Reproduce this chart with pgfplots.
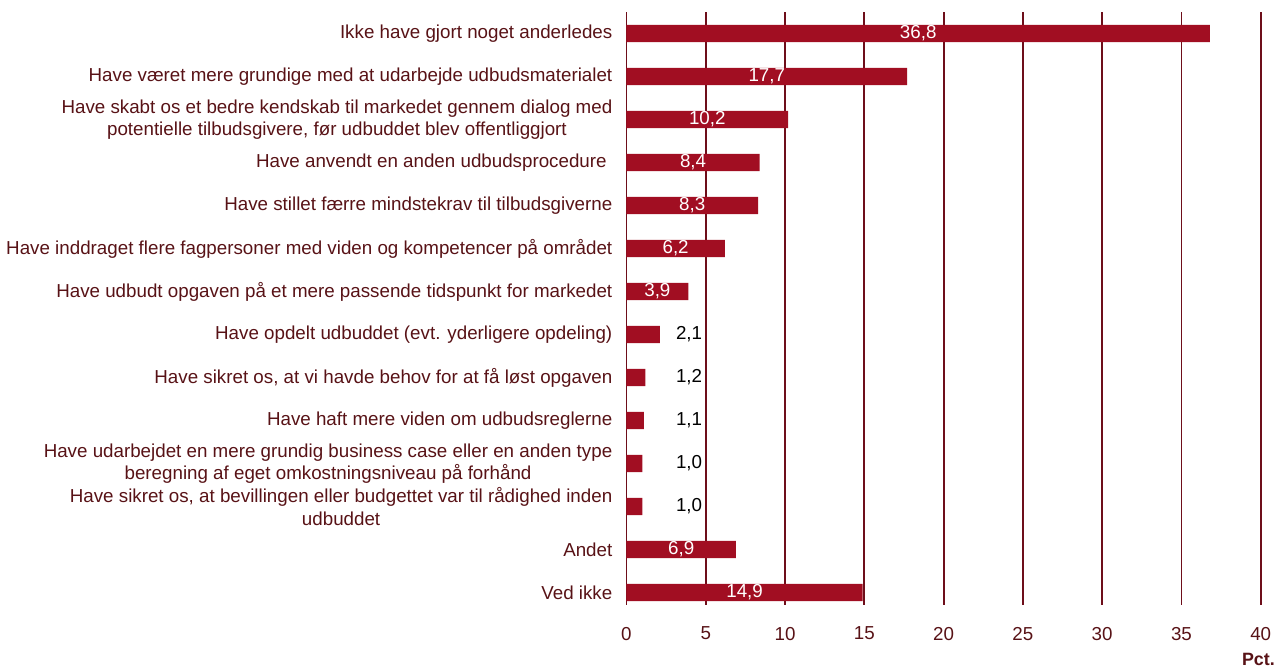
\documentclass[border=0pt]{standalone}
\usepackage{pgfplots}
\usepackage{pgfplotstable}
\usepackage{fontspec}
\setmainfont{Liberation Sans}
\pgfplotsset{compat=1.18}

\definecolor{barred}{RGB}{161,14,34}
\definecolor{gridred}{RGB}{110,14,26}
\definecolor{textred}{RGB}{88,18,22}

% bars, top to bottom
\pgfplotstableread{
pos val
0 36.8
1 17.7
2 10.2
3 8.4
4 8.3
5 6.2
6 3.9
7 2.1
8 1.2
9 1.1
10 1.0
11 1.0
12 6.9
13 14.9
}\bardata

% values printed inside the bar
\pgfplotstableread{
pos val
0 36.8
1 17.7
2 10.2
3 8.4
4 8.3
5 6.2
6 3.9
12 6.9
13 14.9
}\insidedata

% values printed beside short bars
\pgfplotstableread{
pos val
7 2.1
8 1.2
9 1.1
10 1.0
11 1.0
}\outsidedata

\begin{document}
\begin{tikzpicture}
\begin{axis}[
    scale only axis,
    width=338pt,
    height=316pt,
    xmin=0, xmax=40,
    ymin=-0.49, ymax=13.3,
    y dir=reverse,
    axis line style={draw=none},
    major tick length=0pt,
    xtick={0,5,...,40},
    xmajorgrids=true,
    grid style={gridred, line width=1pt},
    ytick={0,...,13},
    yticklabels={
      {Ikke have gjort noget anderledes},
      {Have været mere grundige med at udarbejde udbudsmaterialet},
      {Have skabt os et bedre kendskab til markedet gennem dialog med\\potentielle tilbudsgivere, før udbuddet blev offentliggjort},
      {Have anvendt en anden udbudsprocedure\hspace*{3pt}},
      {Have stillet færre mindstekrav til tilbudsgiverne},
      {Have inddraget flere fagpersoner med viden og kompetencer på området},
      {Have udbudt opgaven på et mere passende tidspunkt for markedet},
      {Have opdelt udbuddet (evt. yderligere opdeling)},
      {Have sikret os, at vi havde behov for at få løst opgaven},
      {Have haft mere viden om udbudsreglerne},
      {Have udarbejdet en mere grundig business case eller en anden type\\beregning af eget omkostningsniveau på forhånd},
      {Have sikret os, at bevillingen eller budgettet var til rådighed inden\\udbuddet},
      {Andet},
      {Ved ikke}
    },
    yticklabel style={font=\fontsize{10}{12}\selectfont, text=textred, align=center, xshift=-4pt},
    xticklabel style={font=\fontsize{10}{12}\selectfont, text=textred, yshift=-8pt},
    /pgf/number format/assume math mode=true,
    xlabel={\textbf{Pct.}},
    xlabel style={at={(rel axis cs:1,0)}, anchor=north east, xshift=11pt, yshift=-22pt,
      font=\fontsize{9.5}{11}\selectfont, text=textred},
]
  \addplot[xbar, bar width=9.2pt, draw=none, fill=barred]
    table[x=val, y=pos] {\bardata};
  \addplot[draw=none, mark=none, nodes near coords,
    point meta=explicit,
    nodes near coords style={anchor=center, text=white, font=\fontsize{10}{12}\selectfont,
      /pgf/number format/.cd, fixed, fixed zerofill, precision=1, use comma}]
    table[x expr=\thisrow{val}/2, y=pos, meta=val] {\insidedata};
  \addplot[draw=none, mark=none, nodes near coords,
    point meta=explicit,
    nodes near coords style={anchor=center, text=black, font=\fontsize{10}{12}\selectfont,
      /pgf/number format/.cd, fixed, fixed zerofill, precision=1, use comma}]
    table[x expr=3.95, y=pos, meta=val] {\outsidedata};
\end{axis}
% a little blank room above the plot, as in the reference
\node[inner sep=0pt, anchor=south] at ([yshift=5.4pt]current axis.north) {};
\end{tikzpicture}
\end{document}
